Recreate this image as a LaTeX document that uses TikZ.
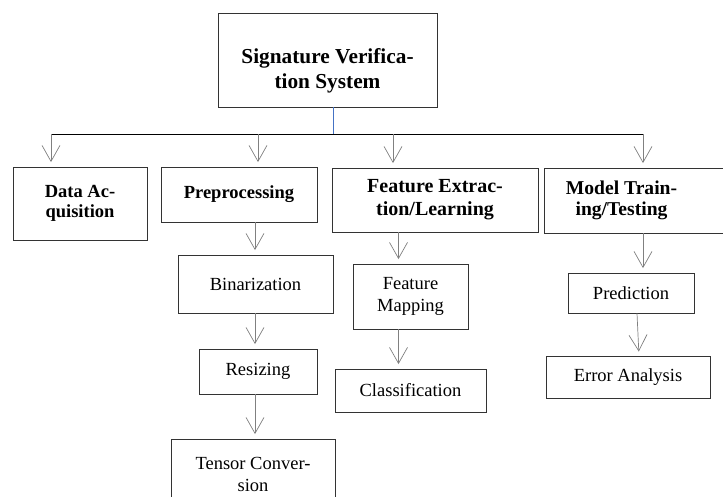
\documentclass[tikz,border=0pt]{standalone}
\usepackage{fontspec}
\setmainfont{Liberation Serif}
\usetikzlibrary{arrows.meta}

\definecolor{trunk}{RGB}{68,114,196}

\tikzset{
  box/.style={draw=black!80, line width=0.8pt, inner sep=0pt, align=center,
    font=\fontsize{18.5}{21.5}\selectfont},
  bbox/.style={box, font=\bfseries\fontsize{18.5}{20.5}\selectfont},
  conn/.style={draw=black!50, line width=0.7pt},
  arr/.style={conn, -{Straight Barb[length=16pt,width=18pt,line width=0.7pt]}, shorten >=4.5pt},
}

\begin{document}
\begin{tikzpicture}[x=1pt, y=-1pt]
  \useasboundingbox (0,0) rectangle (723,496);
  \clip (0,0) rectangle (723,496);

  % root
  \node[bbox, minimum width=219pt, minimum height=94pt,
        label={[align=center, font=\bfseries\fontsize{21.3}{25}\selectfont, yshift=-11pt]center:Signature Verifica-\\tion System}]
    (top) at (327.5,60) {};

  % main stages
  \node[bbox, minimum width=134pt, minimum height=73pt] (data) at (80,203.5) {Data Ac-\\quisition};
  \node[bbox, minimum width=156pt, minimum height=55pt] (prep) at (239,194.5) {Preprocessing};
  \node[bbox, minimum width=206pt, minimum height=64pt,
        font=\bfseries\fontsize{20}{23}\selectfont]
    (feat) at (435,200) {Feature Extrac-\\tion/Learning};
  \node[bbox, minimum width=198pt, minimum height=65pt,
        label={[align=center, font=\bfseries\fontsize{19.6}{21.5}\selectfont, xshift=-21.5pt]center:Model Train-\\ing/Testing}]
    (model) at (643,200.5) {};

  % preprocessing steps
  \node[box, minimum width=155pt, minimum height=58pt] (bin) at (255.5,284) {Binarization};
  \node[box, minimum width=118pt, minimum height=45pt] (res) at (258,371.5) {Resizing};
  \node[box, minimum width=164pt, minimum height=71pt] (tensor) at (253,474.5) {Tensor Conver-\\sion};

  % feature steps
  \node[box, minimum width=115pt, minimum height=65pt] (map) at (410.5,296.5) {Feature\\Mapping};
  \node[box, minimum width=151pt, minimum height=43pt] (class) at (410.5,390.5) {Classification};

  % model steps
  \node[box, minimum width=126pt, minimum height=40pt] (pred) at (631,293) {Prediction};
  \node[box, minimum width=164pt, minimum height=42pt] (err) at (628,377.5) {Error Analysis};

  % branch columns
  \coordinate (hub) at (333,134);
  \coordinate (colA) at (51,134);
  \coordinate (colB) at (258,134);
  \coordinate (colC) at (393,134);
  \coordinate (colD) at (643,134);
  \coordinate (colP) at (255,0);
  \coordinate (colF) at (398.5,0);

  % trunk and branch bar
  \draw[draw=trunk, line width=0.9pt] (top.south -| hub) -- (hub);
  \draw[line width=0.8pt] (colA) -- (colD);

  % branches
  \draw[arr] (colA) -- (colA |- data.north);
  \draw[arr] (colB) -- (colB |- prep.north);
  \draw[arr] (colC) -- (colC |- feat.north);
  \draw[arr] (colD) -- (colD |- model.north);

  % chains
  \draw[arr] (prep.south -| colP) -- (bin.north -| colP);
  \draw[arr] (bin.south -| colP) -- (res.north -| colP);
  \draw[arr] (res.south -| colP) -- (tensor.north -| colP);
  \draw[arr] (feat.south -| colF) -- (map.north -| colF);
  \draw[arr] (map.south -| colF) -- (class.north -| colF);
  \draw[arr] (model.south -| colD) -- (pred.north -| colD);
  \draw[arr] ([xshift=6pt]pred.south) -- ([xshift=11pt]err.north);
\end{tikzpicture}
\end{document}
